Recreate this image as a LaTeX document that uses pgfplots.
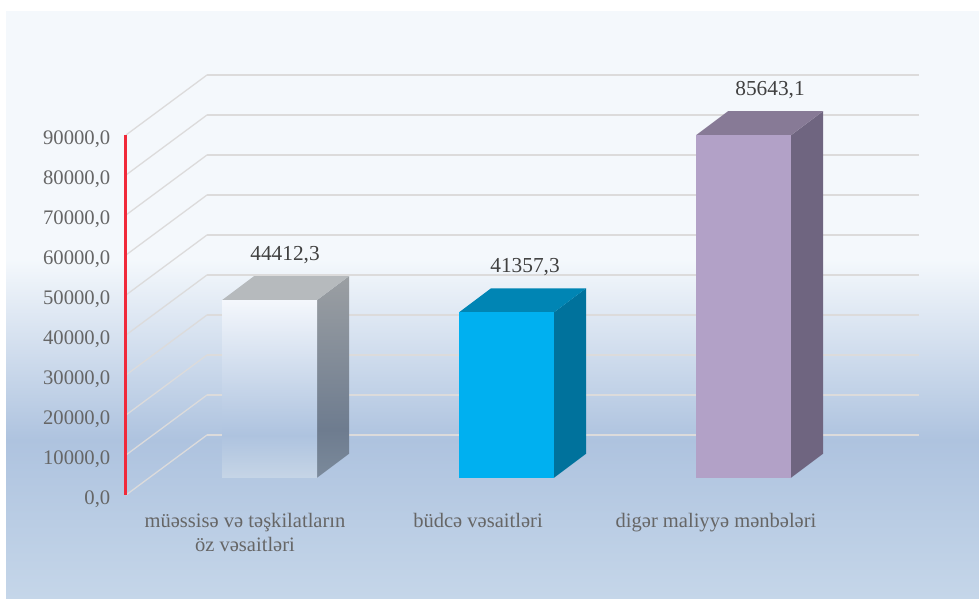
\documentclass[border=0pt]{standalone}
\usepackage{fontspec}
\setmainfont{Liberation Serif}
\usepackage{pgfplots}
\usepackage{pgfplotstable}
\pgfplotsset{compat=1.18}

\definecolor{panelTop}{HTML}{F4F8FC}
\definecolor{panelMid}{HTML}{AEC3DF}
\definecolor{panelLow}{HTML}{C5D6E9}
\definecolor{gridc}{HTML}{DCDBDB}
\definecolor{redaxis}{HTML}{F0293A}
\definecolor{ticktxt}{HTML}{666666}
\definecolor{valtxt}{HTML}{404040}
\definecolor{TopA}{HTML}{B6BABD}
\definecolor{FrontB}{HTML}{00B0F0}
\definecolor{SideB}{HTML}{00729C}
\definecolor{TopB}{HTML}{0085B4}
\definecolor{FrontC}{HTML}{B2A1C7}
\definecolor{SideC}{HTML}{6F6580}
\definecolor{TopC}{HTML}{877A96}

% gradients of the first bar: only 25bp..75bp of the 100bp shading shows
\pgfdeclareverticalshading{frontA}{100bp}{rgb(0bp)=(0.776,0.835,0.902); rgb(25bp)=(0.776,0.835,0.902); rgb(37bp)=(0.682,0.765,0.875); rgb(75bp)=(0.957,0.969,0.988); rgb(100bp)=(0.957,0.969,0.988)}
\pgfdeclareverticalshading{sideA}{100bp}{rgb(0bp)=(0.482,0.541,0.608); rgb(25bp)=(0.482,0.541,0.608); rgb(37bp)=(0.431,0.486,0.561); rgb(75bp)=(0.608,0.624,0.639); rgb(100bp)=(0.608,0.624,0.639)}

% one pixel of the reference
\newlength{\px}
\setlength{\px}{0.75pt}

% faces of a unit box: w across, h up, d into the picture
\pgfplotstableread[row sep=\\]{w h d\\ 0 0 0\\ 0 1 0\\ 1 1 0\\ 1 0 0\\}\frontface
\pgfplotstableread[row sep=\\]{w h d\\ 1 0 0\\ 1 1 0\\ 1 1 1\\ 1 0 1\\}\sideface
\pgfplotstableread[row sep=\\]{w h d\\ 0 1 0\\ 0 1 1\\ 1 1 1\\ 1 1 0\\}\topface
\pgfplotstableread[row sep=\\]{x y\\ 126 0\\ 207 15000\\}\walldiag
\pgfplotstableread[row sep=\\]{x y\\ 207 15000\\ 919 15000\\}\backline

% #1 left x, #2 value, #3 front, #4 side, #5 top
\newcommand{\boxbar}[5]{%
  \addplot[draw=none,#4] table[x expr=#1+95*\thisrow{w}+32*\thisrow{d},y expr=4300+#2*\thisrow{h}+6000*\thisrow{d}]{\sideface};
  \addplot[draw=none,#5] table[x expr=#1+95*\thisrow{w}+32*\thisrow{d},y expr=4300+#2*\thisrow{h}+6000*\thisrow{d}]{\topface};
  \addplot[draw=none,#3] table[x expr=#1+95*\thisrow{w}+32*\thisrow{d},y expr=4300+#2*\thisrow{h}+6000*\thisrow{d}]{\frontface};
}

\begin{document}
\begin{tikzpicture}[x=\px,y=\px]
  \path[use as bounding box,fill=white] (0,0) rectangle (979,599);
  % panel, y counted from the bottom
  \fill[panelTop] (6,339) rectangle (979,588);
  \shade[top color=panelTop,bottom color=panelMid] (6,159) rectangle (979,339.5);
  \shade[top color=panelMid,bottom color=panelLow] (6,0) rectangle (979,159.5);

  \begin{axis}[
      at={(126\px,104\px)},anchor=south west,
      scale only axis,width=792\px,height=420\px,
      xmin=126,xmax=918,ymin=0,ymax=105000,
      clip=false,
      axis line style={draw=none},
      major tick length=0pt,
      ytick={0,10000,...,90000},
      scaled y ticks=false,
      /pgf/number format/assume math mode=true,
      yticklabel style={/pgf/number format/.cd,fixed,fixed zerofill,precision=1,use comma,1000 sep={},
        /tikz/.cd,font=\fontsize{15.5}{18}\selectfont,text=ticktxt,anchor=east,xshift=-11\px,yshift=-4\px},
      xtick={245,478,716},
      xticklabels={{müəssisə və təşkilatların\\öz vəsaitləri},{büdcə vəsaitləri},{digər maliyyə mənbələri}},
      xticklabel style={font=\fontsize{15.4}{18}\selectfont,text=ticktxt,align=center,anchor=north,yshift=-13.5\px},
    ]
    % back wall and left wall
    \pgfplotsinvokeforeach{0,10000,20000,30000,40000,50000,60000,70000,80000,90000}{
      \addplot[gridc,line width=1.3\px] table[x=x,y expr=\thisrow{y}+#1]{\walldiag};
      \addplot[gridc,line width=2.2\px] table[x=x,y expr=\thisrow{y}+#1]{\backline};
    }
    \addplot[redaxis,line width=3\px] coordinates {(126,0) (126,90000)};

    \boxbar{222}{44412.3}{shading=frontA}{shading=sideA}{fill=TopA}
    \boxbar{459}{41357.3}{fill=FrontB}{fill=SideB}{fill=TopB}
    \boxbar{696}{85643.1}{fill=FrontC}{fill=SideC}{fill=TopC}

    \addplot[draw=none,nodes near coords,point meta=explicit symbolic,
      every node near coord/.append style={anchor=center,yshift=21\px,text=valtxt,font=\fontsize{16}{18}\selectfont}]
      table[x=x,y expr=\thisrow{v}+10300,meta=t,row sep=\\]{x v t\\ 285 44412.3 {44412,3}\\ 525 41357.3 {41357,3}\\ 770 85643.1 {85643,1}\\};
  \end{axis}
\end{tikzpicture}
\end{document}
